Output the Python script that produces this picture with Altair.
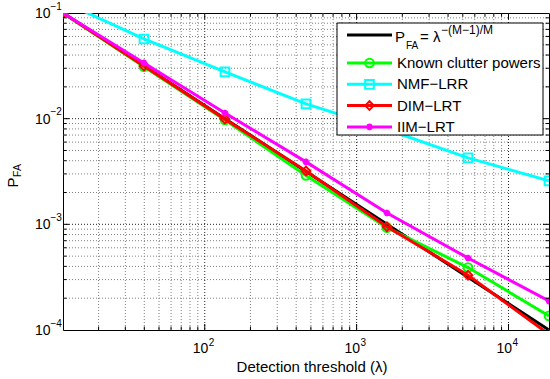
import altair as alt
import pandas as pd

# ---- data ----
thresholds = [11.66, 39.81, 135.9, 464.2, 1584.9, 5412.0, 18478.0]
theory = [0.1, 0.0316, 0.01, 0.00316, 0.001, 0.000316, 0.0001]
known = [0.1, 0.0310, 0.0097, 0.0029, 0.00093, 0.00039, 0.000136]
nmf = [0.128, 0.0568, 0.0277, 0.0138, 0.0079, 0.00425, 0.00258]
dim = [0.1, 0.0315, 0.0099, 0.0032, 0.00095, 0.00033, 0.000091]
iim = [0.1, 0.0337, 0.0113, 0.0039, 0.00128, 0.00048, 0.000188]

series_names = ["theory", "Known clutter powers", "NMF−LRR", "DIM−LRT", "IIM−LRT"]
series_values = [theory, known, nmf, dim, iim]
series_colors = ["#000000", "#00FF00", "#00FFFF", "#FF0000", "#FF00FF"]
ASTERISK = "M-1,0L1,0M0,-1L0,1M-0.7,-0.7L0.7,0.7M-0.7,0.7L0.7,-0.7"
series_shapes = [None, "circle", "square", "diamond", ASTERISK]

x_decades = [100, 1000, 10000]
x_dec_exp = ["2", "3", "4"]
y_decades = [0.1, 0.01, 0.001, 0.0001]
y_dec_exp = ["−1", "−2", "−3", "−4"]
x_minor = [20, 30, 40, 50, 60, 70, 80, 90, 200, 300, 400, 500, 600, 700, 800, 900,
           2000, 3000, 4000, 5000, 6000, 7000, 8000, 9000]
y_minor = [0.0002, 0.0003, 0.0004, 0.0005, 0.0006, 0.0007, 0.0008, 0.0009,
           0.002, 0.003, 0.004, 0.005, 0.006, 0.007, 0.008, 0.009,
           0.02, 0.03, 0.04, 0.05, 0.06, 0.07, 0.08, 0.09]
y_major_inner = [0.001, 0.01]

W, H = 486, 317
FONT = "Liberation Sans"

xs = alt.Scale(type="log", domain=[thresholds[0], thresholds[-1]], nice=False)
ys = alt.Scale(type="log", domain=[0.0001, 0.1], nice=False)


def X(field):
    return alt.X(field, type="quantitative", scale=xs, axis=None)


def Y(field):
    return alt.Y(field, type="quantitative", scale=ys, axis=None)


layers = []

# ---- dotted grid (behind everything) ----
def xgrid(vals, col):
    return alt.Chart(pd.DataFrame({"v": vals})).mark_rule(
        color=col, strokeWidth=1, strokeDash=[1, 2]).encode(
        x=X("v"), y=alt.value(0), y2=alt.value(H))


def ygrid(vals, col):
    return alt.Chart(pd.DataFrame({"v": vals})).mark_rule(
        color=col, strokeWidth=1, strokeDash=[1, 2]).encode(
        y=Y("v"), x=alt.value(0), x2=alt.value(W))


layers += [xgrid(x_minor, "#808080"), ygrid(y_minor, "#808080"),
           xgrid(x_decades, "#222222"), ygrid(y_major_inner, "#222222")]

# ---- series ----
for name, vals, col, shp in zip(series_names, series_values, series_colors, series_shapes):
    base = alt.Chart(pd.DataFrame({"lam": thresholds, "p": vals}))
    layers.append(base.mark_line(clip=True, strokeWidth=3, color=col).encode(x=X("lam"), y=Y("p")))
    if shp is not None:
        sz = 45 if shp == ASTERISK else 75
        layers.append(base.mark_point(clip=True, shape=shp, size=sz, filled=False, strokeWidth=2,
                                      color=col, opacity=1).encode(x=X("lam"), y=Y("p")))

# ---- inward ticks ----
def xticks(vals, length):
    d = alt.Chart(pd.DataFrame({"v": vals}))
    return [d.mark_rule(color="black", strokeWidth=1).encode(x=X("v"), y=alt.value(H), y2=alt.value(H - length)),
            d.mark_rule(color="black", strokeWidth=1).encode(x=X("v"), y=alt.value(0), y2=alt.value(length))]


def yticks(vals, length):
    d = alt.Chart(pd.DataFrame({"v": vals}))
    return [d.mark_rule(color="black", strokeWidth=1).encode(y=Y("v"), x=alt.value(0), x2=alt.value(length)),
            d.mark_rule(color="black", strokeWidth=1).encode(y=Y("v"), x=alt.value(W), x2=alt.value(W - length))]


layers += xticks(x_minor, 3.5) + xticks(x_decades, 6)
layers += yticks(y_minor, 3.5) + yticks(y_major_inner, 6)

# ---- tick labels ----
xl = alt.Chart(pd.DataFrame({"v": x_decades, "e": x_dec_exp, "b": ["10"] * len(x_decades)}))
layers.append(xl.mark_text(font=FONT, fontSize=14, align="right", baseline="middle",
                           dx=3.5, color="black").encode(x=X("v"), y=alt.value(H + 18.5), text="b:N"))
layers.append(xl.mark_text(font=FONT, fontSize=10, align="left", baseline="middle",
                           dx=4, color="black").encode(x=X("v"), y=alt.value(H + 13), text="e:N"))

yl = alt.Chart(pd.DataFrame({"v": y_decades, "e": y_dec_exp, "b": ["10"] * len(y_decades)}))
layers.append(yl.mark_text(font=FONT, fontSize=14, align="right", baseline="middle",
                           dy=1, color="black").encode(y=Y("v"), x=alt.value(-12.5), text="b:N"))
layers.append(yl.mark_text(font=FONT, fontSize=10, align="left", baseline="middle",
                           dy=-6.5, color="black").encode(y=Y("v"), x=alt.value(-12.5), text="e:N"))


def label(txt, x, y, size, angle=0, align="left"):
    return alt.Chart(pd.DataFrame({"t": [txt]})).mark_text(
        font=FONT, fontSize=size, angle=angle, align=align, baseline="middle", color="black").encode(
        x=alt.value(x), y=alt.value(y), text="t:N")


# ---- axis titles ----
layers.append(label("Detection threshold (λ)", 249, 354, 15, align="center"))
layers.append(label("P", -50.5, 169.5, 15, angle=270, align="center"))
layers.append(label("FA", -45, 157.5, 10.5, angle=270, align="center"))

# ---- legend ----
layers.append(alt.Chart(pd.DataFrame({"a": [0]})).mark_rect(fill="white", stroke="black", strokeWidth=1).encode(
    x=alt.value(274), x2=alt.value(480), y=alt.value(10), y2=alt.value(122)))

leg = pd.DataFrame({"name": series_names, "i": list(range(len(series_names)))})
leg_color = alt.Color("name:N", scale=alt.Scale(domain=series_names, range=series_colors), legend=None)
legb = alt.Chart(leg).transform_calculate(ly="datum.i == 0 ? 22 : 50 + (datum.i - 1) * 21.3")
layers.append(legb.mark_rule(strokeWidth=3).encode(
    x=alt.value(284), x2=alt.value(329), y=alt.Y("ly:Q", scale=None), color=leg_color))
mark_names = [n for n, s in zip(series_names, series_shapes) if s is not None]
mark_shapes = [s for s in series_shapes if s is not None]
layers.append(legb.transform_filter(alt.FieldOneOfPredicate(field="name", oneOf=mark_names[:3]))
              .mark_point(size=75, filled=False, strokeWidth=2, opacity=1).encode(
    x=alt.value(306.5), y=alt.Y("ly:Q", scale=None), color=leg_color,
    shape=alt.Shape("name:N", scale=alt.Scale(domain=mark_names[:3], range=mark_shapes[:3]), legend=None)))
layers.append(legb.transform_filter(alt.FieldOneOfPredicate(field="name", oneOf=mark_names[3:]))
              .mark_point(size=45, filled=False, strokeWidth=2, opacity=1, shape=ASTERISK).encode(
    x=alt.value(306.5), y=alt.Y("ly:Q", scale=None), color=leg_color))
layers.append(legb.transform_filter(alt.datum.i > 0)
              .mark_text(font=FONT, fontSize=15, align="left", baseline="middle", color="black").encode(
    x=alt.value(334), y=alt.Y("ly:Q", scale=None), text="name:N"))
# first legend label: P_FA = λ^{-(M-1)/M}
layers.append(label("P", 332, 24, 15))
layers.append(label("FA", 343, 33, 10))
layers.append(label("= λ", 357, 24, 15))
layers.append(label("−(M−1)/M", 378, 17, 12))

chart = alt.layer(*layers).properties(
    width=W, height=H,
    autosize=alt.AutoSizeParams(type="none"),
    padding={"left": 63, "top": 13, "right": 1, "bottom": 49},
    background="white",
).configure_view(stroke="black", strokeWidth=1)

chart.save("out.html", embed_options={"renderer": "svg", "actions": False})
